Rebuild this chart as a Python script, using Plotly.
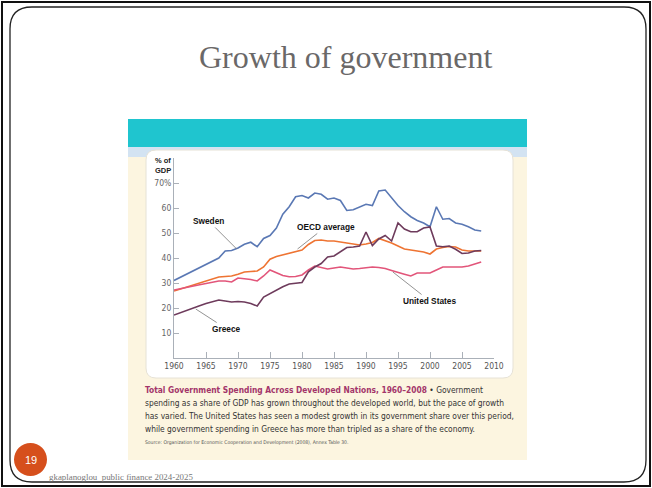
import plotly.graph_objects as go

W, H = 652, 488

years = list(range(1960, 2009))

sweden = [31.0, 32.3, 33.6, 35.0, 36.3, 37.6, 38.8, 40.0, 42.8, 43.0,
          44.0, 45.5, 46.3, 44.5, 47.8, 49.0, 52.0, 57.5, 60.5, 64.5,
          65.0, 64.0, 66.0, 65.5, 63.5, 64.0, 63.0, 59.0, 59.3, 60.3,
          61.5, 61.0, 66.8, 67.2, 64.0, 61.0, 58.5, 56.5, 55.0, 54.0,
          52.5, 60.5, 55.5, 55.8, 54.0, 53.5, 52.5, 51.2, 50.8]

oecd = [26.8, 27.6, 28.4, 29.2, 30.0, 30.8, 31.6, 32.4, 32.6, 32.8,
        33.5, 34.4, 34.6, 34.8, 36.4, 39.5, 40.6, 41.2, 41.8, 42.4,
        43.2, 45.4, 47.0, 47.2, 46.8, 46.8, 46.4, 46.0, 45.4, 45.2,
        45.6, 46.2, 47.8, 47.0, 46.0, 44.8, 43.6, 43.2, 42.8, 42.4,
        41.6, 43.6, 44.2, 44.6, 44.4, 43.2, 42.8, 42.8, 42.8]

us = [27.2, 27.8, 28.3, 28.8, 29.3, 29.8, 30.3, 30.8, 30.8, 30.4,
      32.0, 31.8, 31.4, 30.8, 32.8, 35.2, 34.0, 33.0, 32.5, 32.6,
      33.2, 35.2, 36.8, 36.2, 35.6, 36.0, 36.4, 36.0, 35.6, 35.8,
      36.2, 36.4, 36.2, 35.8, 35.0, 34.4, 33.5, 32.8, 34.0, 34.0,
      34.0, 35.2, 36.4, 36.4, 36.4, 36.4, 36.8, 37.5, 38.4]

greece = [17.2, 18.2, 19.1, 20.0, 20.9, 21.8, 22.6, 23.2, 22.8, 22.4,
          22.6, 22.4, 21.8, 20.8, 24.4, 25.8, 27.0, 28.5, 29.6, 29.8,
          30.2, 34.5, 36.4, 37.8, 40.4, 40.8, 42.5, 44.2, 44.4, 44.8,
          50.4, 45.0, 47.6, 49.0, 46.8, 54.0, 51.6, 50.5, 50.5, 52.0,
          52.4, 44.8, 44.5, 44.8, 43.5, 41.8, 42.0, 42.8, 43.0]

y_tick_vals = [10, 20, 30, 40, 50, 60, 70]
y_tick_text = ["10", "20", "30", "40", "50", "60", "70%"]
x_tick_vals = [1960, 1965, 1970, 1975, 1980, 1985, 1990, 1995, 2000, 2005, 2010]

series = [
    ("Sweden", sweden, "#5a78b4"),
    ("OECD average", oecd, "#ee7433"),
    ("United States", us, "#e2557a"),
    ("Greece", greece, "#6e3b5c"),
]

def px(x):
    return x / W

def py(y):
    return 1 - y / H

fig = go.Figure()
for name, vals, col in series:
    fig.add_trace(go.Scatter(x=years, y=vals, mode="lines", name=name,
                             line=dict(color=col, width=1.6), showlegend=False))

def rounded(x0, y0, x1, y1, r):
    return (f"M {px(x0+r)},{py(y0)} L {px(x1-r)},{py(y0)} Q {px(x1)},{py(y0)} {px(x1)},{py(y0+r)} "
            f"L {px(x1)},{py(y1-r)} Q {px(x1)},{py(y1)} {px(x1-r)},{py(y1)} "
            f"L {px(x0+r)},{py(y1)} Q {px(x0)},{py(y1)} {px(x0)},{py(y1-r)} "
            f"L {px(x0)},{py(y0+r)} Q {px(x0)},{py(y0)} {px(x0+r)},{py(y0)} Z")

shapes = []
shapes.append(dict(type="rect", xref="paper", yref="paper", x0=px(2), x1=px(650), y0=py(486), y1=py(2),
                   line=dict(color="#111", width=2), layer="below"))
shapes.append(dict(type="path", xref="paper", yref="paper", path=rounded(10, 7, 646, 482, 22),
                   line=dict(color="#222", width=1.3), layer="below"))
shapes.append(dict(type="rect", xref="paper", yref="paper", x0=px(128), x1=px(527), y0=py(460), y1=py(146),
                   fillcolor="#fcf5e0", line=dict(width=0), layer="below"))
shapes.append(dict(type="rect", xref="paper", yref="paper", x0=px(128), x1=px(527), y0=py(157), y1=py(146),
                   fillcolor="#d3e3f2", line=dict(width=0), layer="below"))
shapes.append(dict(type="rect", xref="paper", yref="paper", x0=px(128), x1=px(527), y0=py(147), y1=py(119),
                   fillcolor="#1fc5cf", line=dict(width=0), layer="below"))
shapes.append(dict(type="path", xref="paper", yref="paper", path=rounded(146, 150, 513, 378, 10),
                   fillcolor="#ffffff", line=dict(color="#e6e2d6", width=1), layer="below"))
shapes.append(dict(type="circle", xref="paper", yref="paper", x0=px(14), x1=px(47), y0=py(476), y1=py(443),
                   fillcolor="#d64f1c", line=dict(width=0)))

annotations = []
lab_font = dict(family="Liberation Sans, Arial, sans-serif", size=8.3, color="#111")
label_specs = [
    ("<b>Sweden</b>", 1969.8, 43.6, -28, -28),
    ("<b>OECD average</b>", 1979.3, 43.6, 28, -22),
    ("<b>United States</b>", 1994.2, 34.4, 37, 29),
    ("<b>Greece</b>", 1963.4, 19.6, 31, 20),
]
for txt, xv, yv, ax, ay in label_specs:
    annotations.append(dict(x=xv, y=yv, xref="x", yref="y", text=txt, showarrow=True,
                            arrowhead=0, arrowwidth=0.8, arrowcolor="#777", ax=ax, ay=ay,
                            font=lab_font, standoff=0))

annotations.append(dict(x=px(173), y=py(165), xref="paper", yref="paper", text="<b>% of<br>GDP</b>",
                        showarrow=False, xanchor="right", yanchor="middle", align="left",
                        font=dict(family="Liberation Sans, Arial, sans-serif", size=7.5, color="#222")))

annotations.append(dict(x=px(345), y=py(57), xref="paper", yref="paper", text="Growth of government",
                        showarrow=False, xanchor="center", yanchor="middle",
                        font=dict(family="Liberation Serif, Times New Roman, serif", size=32, color="#6a6868")))

cap_font = dict(family="Liberation Sans Narrow, DejaVu Sans Condensed, Arial Narrow, sans-serif", size=8.35, color="#333")
cap_lines = [
    "<span style='color:#a3356a'><b>Total Government Spending Across Developed Nations, 1960–2008</b></span> • Government",
    "spending as a share of GDP has grown throughout the developed world, but the pace of growth",
    "has varied. The United States has seen a modest growth in its government share over this period,",
    "while government spending in Greece has more than tripled as a share of the economy.",
]
cap_y = [390, 403, 416, 429]
for t, yy in zip(cap_lines, cap_y):
    annotations.append(dict(x=px(143), y=py(yy), xref="paper", yref="paper", text=t, showarrow=False,
                            xanchor="left", yanchor="middle", font=cap_font))
annotations.append(dict(x=px(143), y=py(442), xref="paper", yref="paper",
                        text="Source: Organization for Economic Cooperation and Development (2008), Annex Table 30.",
                        showarrow=False, xanchor="left", yanchor="middle",
                        font=dict(family="Liberation Sans Narrow, DejaVu Sans Condensed, sans-serif", size=5, color="#555")))

annotations.append(dict(x=px(30.5), y=py(459.5), xref="paper", yref="paper", text="19", showarrow=False,
                        xanchor="center", yanchor="middle",
                        font=dict(family="Liberation Sans, Arial, sans-serif", size=11, color="#ffffff")))
annotations.append(dict(x=px(47), y=py(477), xref="paper", yref="paper", text="gkaplanoglou  public finance 2024-2025",
                        showarrow=False, xanchor="left", yanchor="middle",
                        font=dict(family="Liberation Serif, Times New Roman, serif", size=8.9, color="#777")))

fig.update_layout(
    width=W, height=H,
    margin=dict(l=0, r=0, t=0, b=0, pad=0, autoexpand=False),
    paper_bgcolor="#ffffff", plot_bgcolor="rgba(0,0,0,0)",
    shapes=shapes, annotations=annotations,
    xaxis=dict(domain=[px(174), px(494)], range=[1960, 2010], tickvals=x_tick_vals, automargin=False,
               showgrid=False, zeroline=False, showline=True, linecolor="#aab0b8", linewidth=1,
               ticks="inside", ticklen=6, tickcolor="#aab0b8",
               tickfont=dict(family="Liberation Sans Narrow, DejaVu Sans Condensed, sans-serif", size=8.5, color="#555")),
    yaxis=dict(domain=[py(358), py(158)], range=[0, 80], tickvals=y_tick_vals, ticktext=y_tick_text, automargin=False,
               showgrid=False, zeroline=False, showline=True, linecolor="#aab0b8", linewidth=1,
               ticks="inside", ticklen=5, tickcolor="#aab0b8",
               tickfont=dict(family="Liberation Sans Narrow, DejaVu Sans Condensed, sans-serif", size=8.5, color="#666")),
)

fig.write_html("out.html", config={"displayModeBar": False},
               post_script="document.body.style.margin='0';document.body.style.overflow='hidden';")
